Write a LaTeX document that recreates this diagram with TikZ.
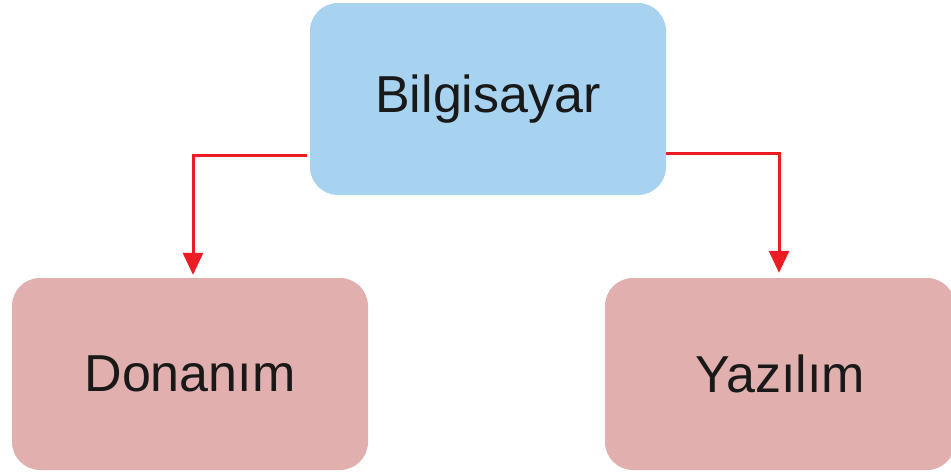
\documentclass[tikz,border=0pt]{standalone}
\usepackage{fontspec}
\setmainfont{Liberation Sans}
\usepackage{tikz}
\usetikzlibrary{shapes,arrows.meta}

\definecolor{boxblue}{RGB}{168,211,240}
\definecolor{boxpink}{RGB}{226,175,175}
\definecolor{arrowred}{RGB}{237,28,36}

\begin{document}
\begin{tikzpicture}[x=1pt,y=-1pt,
    box/.style={rounded corners=28pt,minimum width=356pt,minimum height=192pt,
        inner sep=0pt,font=\fontsize{52}{60}\selectfont,text=black!90},
    link/.style={arrowred,line width=3pt,-{Triangle[width=20pt,length=22pt]}}]
    \useasboundingbox (0,0) rectangle (951,475);

    % Boxes
    \node [box,fill=boxblue] (bilgisayar) at (488,99) {Bilgisayar};
    \node [box,fill=boxpink] (donanim) at (190,374) {Donan\i m};
    \node [box,fill=boxpink,minimum width=350pt] (yazilim) at (780,374) {Yaz\i l\i m};

    % Arrows
    \draw [link,shorten <=3pt,shorten >=3pt] ([yshift=-56pt]bilgisayar.west) -| ([xshift=3pt]donanim.north);
    \draw [link,shorten >=5pt] ([yshift=-54pt]bilgisayar.east) -| ([xshift=-1pt]yazilim.north);
\end{tikzpicture}
\end{document}
